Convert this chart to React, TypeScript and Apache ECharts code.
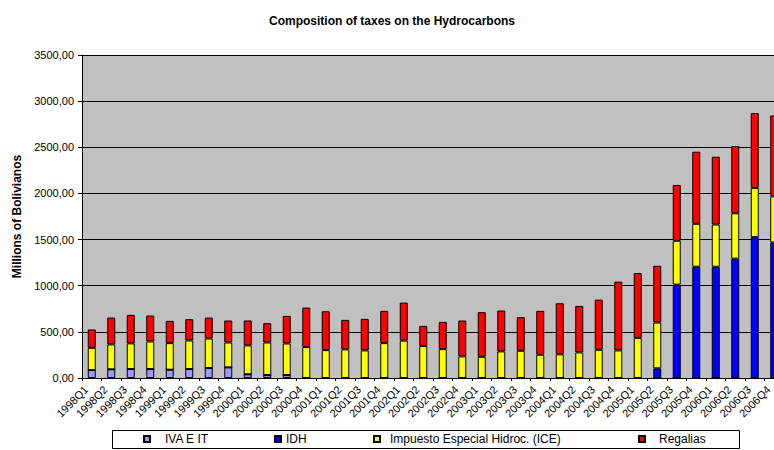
import React, { useEffect, useRef } from "react";
import * as echarts from "echarts";

const categories = [
  "1998Q1", "1998Q2", "1998Q3", "1998Q4",
  "1999Q1", "1999Q2", "1999Q3", "1999Q4",
  "2000Q1", "2000Q2", "2000Q3", "2000Q4",
  "2001Q1", "2001Q2", "2001Q3", "2001Q4",
  "2002Q1", "2002Q2", "2002Q3", "2002Q4",
  "2003Q1", "2003Q2", "2003Q3", "2003Q4",
  "2004Q1", "2004Q2", "2004Q3", "2004Q4",
  "2005Q1", "2005Q2", "2005Q3", "2005Q4",
  "2006Q1", "2006Q2", "2006Q3", "2006Q4",
];

const ivaEIt = [
  86, 94, 97, 97, 90, 97, 108, 115, 40, 32, 32, 0,
  0, 0, 0, 0, 0, 0, 0, 0, 0, 0, 0, 0,
  0, 0, 0, 0, 0, 0, 0, 0, 0, 0, 0, 0,
];

const idh = [
  0, 0, 0, 0, 0, 0, 0, 0, 0, 0, 0, 0,
  0, 0, 0, 0, 0, 0, 0, 0, 0, 0, 0, 0,
  0, 0, 0, 0, 0, 105, 1012, 1206, 1206, 1293, 1526, 1469,
];

const ice = [
  241, 270, 278, 299, 288, 310, 320, 270, 313, 353, 342, 335,
  302, 310, 299, 378, 405, 346, 313, 234, 230, 288, 295, 252,
  256, 277, 306, 299, 435, 496, 475, 465, 457, 492, 534, 500,
];

const regalias = [
  199, 291, 309, 281, 241, 230, 227, 238, 270, 209, 299, 428,
  421, 320, 342, 349, 412, 219, 295, 389, 483, 443, 364, 475,
  554, 504, 543, 745, 702, 615, 605, 781, 735, 728, 810, 875,
];

const seriesNames = ["IVA E IT", "IDH", "Impuesto Especial Hidroc. (ICE)", "Regalias"];
const seriesColors = ["#9999FF", "#0000FF", "#FFFF00", "#FF0000"];
const seriesData = [ivaEIt, idh, ice, regalias];

const FONT = '"Liberation Sans", Arial, sans-serif';

export default function App() {
  const ref = useRef<HTMLDivElement>(null);

  useEffect(() => {
    document.body.style.margin = "0";
    const chart = echarts.init(ref.current!, null, { renderer: "svg" });

    const legendLefts = [143, 274, 373, 638];
    const legendPads = [10, 0, 5, 9];

    const option: any = {
      animation: false,
      backgroundColor: "#FFFFFF",
      textStyle: { fontFamily: FONT },
      title: {
        text: "Composition of taxes on the Hydrocarbons",
        left: 264,
        top: 10,
        textStyle: { fontFamily: FONT, fontSize: 12, fontWeight: "bold", color: "#000" },
      },
      graphic: [
        {
          type: "rect",
          shape: { x: 112.5, y: 430.5, width: 627, height: 18 },
          style: { fill: "#FFFFFF", stroke: "#000", lineWidth: 1 },
          z: 0,
        },
      ],
      legend: seriesNames.map((name, i) => ({
        data: [name],
        left: legendLefts[i],
        top: 433,
        itemWidth: 6,
        itemHeight: 6,
        icon: "rect",
        selectedMode: false,
        padding: 0,
        textStyle: {
          fontFamily: FONT,
          fontSize: 12,
          color: "#000",
          padding: [0, 0, 0, legendPads[i]],
        },
        z: 5,
      })),
      grid: {
        left: 82,
        width: 702,
        top: 55,
        bottom: 72,
        show: true,
        backgroundColor: "#C0C0C0",
        borderWidth: 0,
        containLabel: false,
        outerBoundsMode: "none",
      },
      xAxis: {
        type: "category",
        data: categories,
        axisLine: { lineStyle: { color: "#000", width: 1 } },
        axisTick: { show: true, length: 3, lineStyle: { color: "#000" } },
        axisLabel: {
          interval: 0,
          rotate: 45,
          margin: 4,
          fontSize: 11,
          color: "#000",
          fontFamily: FONT,
          padding: [0, 8, 16, 0],
        },
      },
      yAxis: {
        type: "value",
        min: 0,
        max: 3500,
        interval: 500,
        name: "Millions of Bolivianos",
        nameLocation: "middle",
        nameGap: 58,
        nameTextStyle: { fontFamily: FONT, fontSize: 12, fontWeight: "bold", color: "#000" },
        axisLine: { show: true, lineStyle: { color: "#000", width: 1 } },
        axisTick: { show: true, length: 4, lineStyle: { color: "#000" } },
        axisLabel: {
          fontSize: 11,
          color: "#000",
          margin: 8,
          fontFamily: FONT,
          formatter: (v: number) => v.toFixed(2).replace(".", ","),
        },
        splitLine: { show: true, lineStyle: { color: "#000", width: 1 } },
      },
      series: seriesNames.map((name, i) => ({
        name,
        type: "bar",
        stack: "total",
        barWidth: 8,
        data: seriesData[i],
        itemStyle: { color: seriesColors[i], borderColor: "#000", borderWidth: 1 },
      })),
    };

    chart.setOption(option);
    return () => chart.dispose();
  }, []);

  return <div ref={ref} style={{ width: 774, height: 450 }} />;
}
